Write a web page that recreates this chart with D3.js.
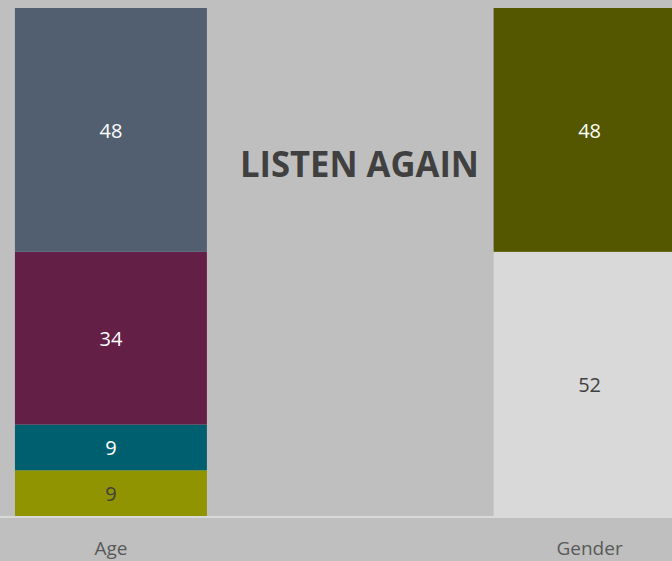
<!DOCTYPE html>
<html>
<head>
<meta charset="utf-8">
<script src="https://cdn.jsdelivr.net/npm/d3@7"></script>
<style>
  html, body { margin: 0; padding: 0; background: #bfbfbf; }
  svg { display: block; }
</style>
</head>
<body>
<div id="chart"></div>
<script>
// data
var categories = ['Age', ' ', 'Gender'];
var ageValues = [9, 9, 34, 48];       // bottom to top
var genderValues = [52, 48];          // bottom to top
var title = 'LISTEN AGAIN';

var ageColors = ['#8f9400', '#005f6e', '#631f45', '#515f70'];
var ageText = ['#404040', '#ffffff', '#ffffff', '#ffffff'];
var genderColors = ['#d9d9d9', '#545700'];
var genderText = ['#404040', '#ffffff'];

var width = 672, height = 561;
var plotTop = 8, plotBottom = 516;

var svg = d3.select('#chart').append('svg')
    .attr('width', width)
    .attr('height', height);

var x = d3.scaleBand()
    .domain(categories)
    .range([-8.75, 709.25])
    .paddingInner(0.198)
    .paddingOuter(0.099);

var y = d3.scaleLinear()
    .domain([0, 100])
    .range([plotBottom, plotTop]);

function stackBar(cat, values, colors, textColors) {
    var g = svg.append('g');
    var acc = 0;
    values.forEach(function(v, i) {
        var y0 = y(acc), y1 = y(acc + v);
        g.append('rect')
            .attr('x', x(cat))
            .attr('y', y1)
            .attr('width', x.bandwidth())
            .attr('height', y0 - y1)
            .style('fill', colors[i]);
        g.append('text')
            .attr('x', x(cat) + x.bandwidth() / 2)
            .attr('y', (y0 + y1) / 2 + 1)
            .attr('dy', '0.35em')
            .text(v)
            .attr('font-family', 'Open Sans')
            .attr('font-size', '20px')
            .attr('fill', textColors[i])
            .style('text-anchor', 'middle');
        acc += v;
    });
}

stackBar('Age', ageValues, ageColors, ageText);
stackBar('Gender', genderValues, genderColors, genderText);

// axis line
svg.append('line')
    .attr('x1', 0)
    .attr('x2', width)
    .attr('y1', plotBottom + 1)
    .attr('y2', plotBottom + 1)
    .style('stroke', '#d9d9d9')
    .style('stroke-width', 2);

// category labels
svg.selectAll('.cat')
    .data(categories.filter(function(c) { return c.trim() !== ''; }))
    .enter().append('text')
    .attr('class', 'cat')
    .attr('x', function(d) { return x(d) + x.bandwidth() / 2; })
    .attr('y', 555)
    .text(function(d) { return d; })
    .attr('font-family', 'Open Sans')
    .attr('font-size', '19px')
    .attr('fill', '#595959')
    .style('text-anchor', 'middle');

// title
svg.append('text')
    .attr('x', 359.5)
    .attr('y', 177)
    .text(title)
    .attr('font-family', 'Open Sans')
    .attr('font-weight', 'bold')
    .attr('font-size', '36px')
    .attr('fill', '#404040')
    .attr('textLength', 239)
    .attr('lengthAdjust', 'spacingAndGlyphs')
    .style('text-anchor', 'middle');
</script>
</body>
</html>
